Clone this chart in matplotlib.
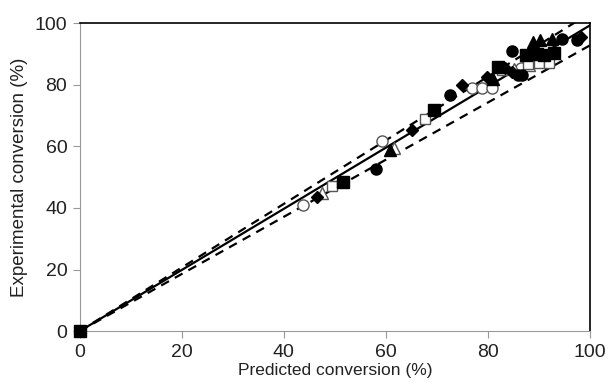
import matplotlib.pyplot as plt

plt.rcParams['font.family'] = ['Liberation Sans', 'DejaVu Sans']

# Datos (predicho, experimental)
circ_lleno_x = [58.0, 72.6, 84.7, 85.9, 86.7, 94.5, 97.5]
circ_lleno_y = [52.5, 76.8, 91.0, 83.0, 83.3, 95.0, 94.5]

circ_abierto_x = [43.7, 59.2, 76.9, 78.8, 80.8, 86.5]
circ_abierto_y = [40.9, 61.7, 78.9, 78.9, 79.0, 85.5]

rombo_x = [46.5, 65.1, 74.9, 79.8, 83.3, 84.7, 98.3]
rombo_y = [43.5, 65.3, 79.9, 82.5, 85.4, 84.0, 95.5]

triang_lleno_x = [60.8, 81.0, 88.8, 90.2, 92.5]
triang_lleno_y = [58.8, 82.0, 93.8, 94.5, 95.0]

triang_abierto_x = [47.5, 61.5, 85.0, 88.0]
triang_abierto_y = [45.0, 59.5, 85.0, 86.5]

cuad_lleno_x = [0.0, 51.6, 69.4, 82.0, 87.5, 89.5, 91.0, 93.0]
cuad_lleno_y = [0.0, 48.4, 71.8, 85.7, 89.5, 90.0, 89.8, 90.2]

cuad_abierto_x = [49.4, 67.6, 82.7, 87.8, 90.0, 92.0]
cuad_abierto_y = [47.0, 68.8, 84.7, 86.8, 87.0, 87.2]

# Rectas: ajuste y limites
recta_x = [0, 100]
recta_ajuste = [0, 99.3]
recta_sup = [0, 103.3]
recta_inf = [0, 92.8]

fig = plt.figure(figsize=(6.09, 3.85), dpi=100)
ax = fig.add_axes([0.131, 0.140, 0.838, 0.800])

ax.plot(recta_x, recta_ajuste, color='black', lw=1.6, zorder=2)
ax.plot(recta_x, recta_sup, color='black', lw=1.6, ls=(0, (4, 3)), zorder=2)
ax.plot(recta_x, recta_inf, color='black', lw=1.6, ls=(0, (4, 3)), zorder=2)

ms = 8
ax.plot(circ_abierto_x, circ_abierto_y, 'o', ms=ms, mfc='white', mec='#555555', mew=1, zorder=3)
ax.plot(triang_abierto_x, triang_abierto_y, '^', ms=ms, mfc='white', mec='#555555', mew=1, zorder=3)
ax.plot(cuad_abierto_x, cuad_abierto_y, 's', ms=ms - 1, mfc='white', mec='#555555', mew=1, zorder=3)
ax.plot(circ_lleno_x, circ_lleno_y, 'o', ms=ms, color='black', zorder=4)
ax.plot(rombo_x, rombo_y, 'D', ms=ms - 2, color='black', zorder=4)
ax.plot(triang_lleno_x, triang_lleno_y, '^', ms=ms, color='black', zorder=4)
ax.plot(cuad_lleno_x, cuad_lleno_y, 's', ms=ms, color='black', zorder=4, clip_on=False)

ax.set_xlim(0, 100)
ax.set_ylim(0, 100)
ax.set_xticks([0, 20, 40, 60, 80, 100])
ax.set_yticks([0, 20, 40, 60, 80, 100])

for lado in ['left', 'bottom']:
    ax.spines[lado].set_color('#999999')
for lado in ['top', 'right']:
    ax.spines[lado].set_color('black')
    ax.spines[lado].set_linewidth(1.2)

ax.tick_params(axis='both', direction='out', length=5, color='#999999',
               labelsize=14, pad=4, labelcolor='#222222')

ax.set_xlabel('Predicted conversion (%)', fontsize=12.5, labelpad=2, color='#222222')
ax.set_ylabel('Experimental conversion (%)', fontsize=13.5, labelpad=5, color='#222222')

plt.savefig('out.png', dpi=100)
